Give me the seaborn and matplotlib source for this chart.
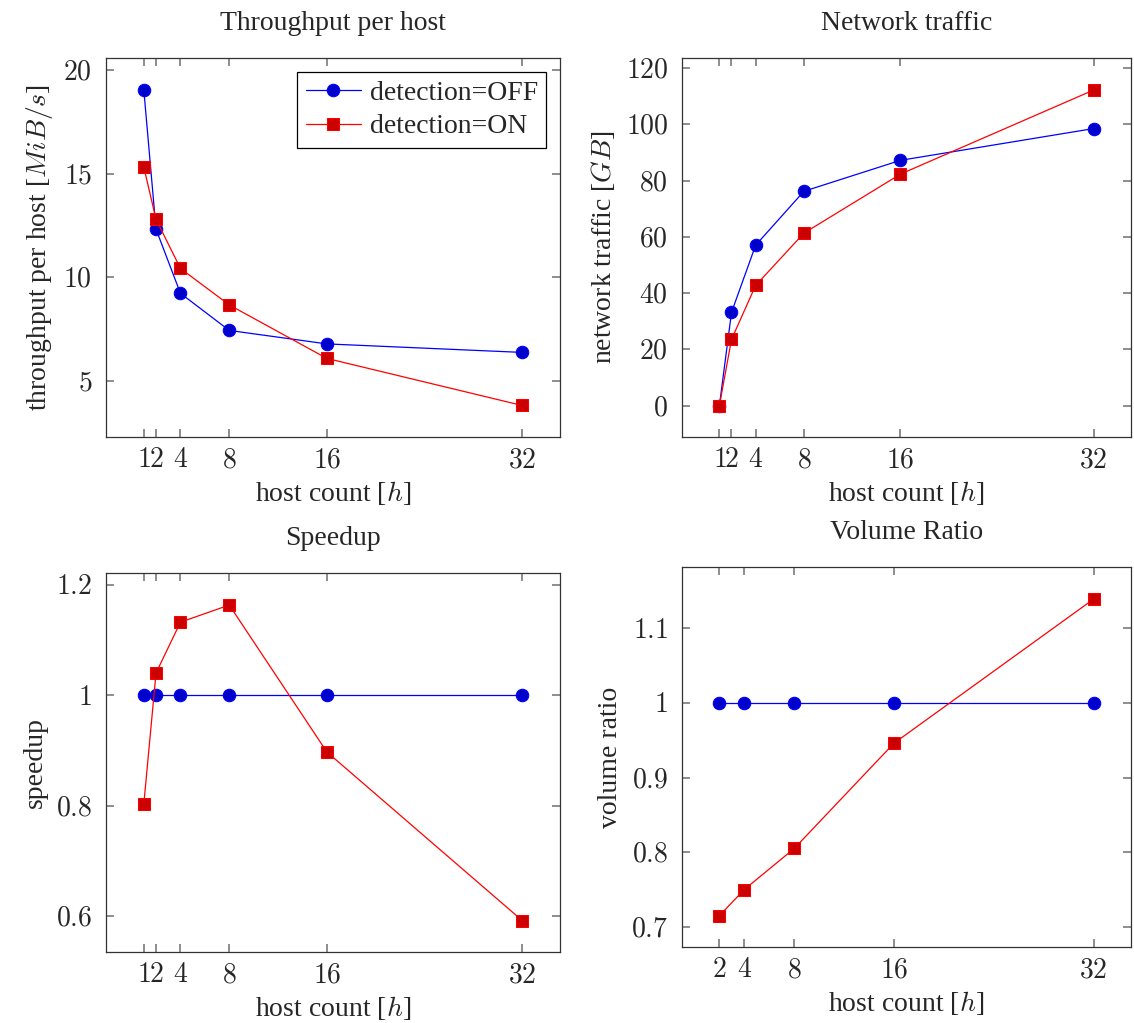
import numpy as np
import pandas as pd
import matplotlib
matplotlib.use("Agg")
import matplotlib.pyplot as plt
import seaborn as sns

# dados
hosts = [1, 2, 4, 8, 16, 32]
hosts_ratio = [2, 4, 8, 16, 32]

thr_off = [19.03, 12.32, 9.23, 7.44, 6.79, 6.38]
thr_on = [15.31, 12.80, 10.43, 8.67, 6.09, 3.82]

net_off = [0.0, 33.1, 57.0, 76.2, 87.2, 98.5]
net_on = [0.0, 23.5, 42.7, 61.3, 82.3, 112.2]

spd_off = [1.0, 1.0, 1.0, 1.0, 1.0, 1.0]
spd_on = [0.803, 1.04, 1.132, 1.163, 0.897, 0.592]

vol_off = [1.0, 1.0, 1.0, 1.0, 1.0]
vol_on = [0.715, 0.75, 0.805, 0.946, 1.139]

series_names = ["detection=OFF", "detection=ON"]

sns.set_theme(style="ticks")
plt.rcParams["font.family"] = ["Liberation Serif", "DejaVu Serif"]
plt.rcParams["mathtext.fontset"] = "cm"

FS = 20

fig = plt.figure(figsize=(11.34, 10.23), dpi=100)
W, H = 1134, 1023


def eixo(l, t, r, b):
    return fig.add_axes([l / W, 1 - b / H, (r - l) / W, (b - t) / H])


def painel(ax, x, off, on, title, ylabel, xticks, yticks, ylim, legend=False):
    df = pd.DataFrame({
        "x": list(x) * 2,
        "y": list(off) + list(on),
        "serie": [series_names[0]] * len(x) + [series_names[1]] * len(x),
    })
    sns.lineplot(data=df[df.serie == series_names[0]], x="x", y="y", ax=ax,
                 color="#0000ff", marker="o", markersize=9,
                 markerfacecolor="#0000cc", markeredgecolor="#0000ff",
                 linewidth=0.9, label=series_names[0], legend=False)
    sns.lineplot(data=df[df.serie == series_names[1]], x="x", y="y", ax=ax,
                 color="#ff0000", marker="s", markersize=8,
                 markerfacecolor="#cc0000", markeredgecolor="#ff0000",
                 linewidth=0.9, label=series_names[1], legend=False)
    span = max(x) - min(x)
    ax.set_xlim(min(x) - 0.1 * span, max(x) + 0.1 * span)
    ax.set_ylim(*ylim)
    ax.set_xticks(xticks)
    ax.set_xticklabels([f"${v}$" for v in xticks])
    ax.set_yticks(yticks)
    ax.set_yticklabels([f"${v:g}$" for v in yticks])
    ax.tick_params(axis="y", pad=10)
    ax.tick_params(axis="x", pad=8)
    ax.tick_params(direction="in", top=True, right=True, length=6,
                   color="#808080", labelsize=FS)
    for s in ax.spines.values():
        s.set_color("#333333")
        s.set_linewidth(0.9)
    ax.set_title(title, fontsize=FS, pad=20)
    ax.set_xlabel("host count [$h$]", fontsize=FS, labelpad=4)
    ax.set_ylabel(ylabel, fontsize=FS, labelpad=6)
    if legend:
        leg = ax.legend(loc="upper right", fontsize=FS, fancybox=False,
                        edgecolor="black", framealpha=1, borderpad=0.3,
                        handlelength=2.0, handletextpad=0.3,
                        labelspacing=0.3, borderaxespad=0.5)
        leg.get_frame().set_linewidth(0.9)


ax1 = eixo(106, 58, 560, 437)
painel(ax1, hosts, thr_off, thr_on, "Throughput per host",
       "throughput per host [$MiB/s$]", hosts, [5, 10, 15, 20],
       (2.3, 20.58), legend=True)

ax2 = eixo(682, 58, 1131, 437)
painel(ax2, hosts, net_off, net_on, "Network traffic",
       "network traffic [$GB$]", hosts, [0, 20, 40, 60, 80, 100, 120],
       (-11.2, 123.6))

ax3 = eixo(106, 573, 560, 952)
painel(ax3, hosts, spd_off, spd_on, "Speedup", "speedup", hosts,
       [0.6, 0.8, 1, 1.2], (0.535, 1.221))

ax4 = eixo(682, 567, 1131, 947)
painel(ax4, hosts_ratio, vol_off, vol_on, "Volume Ratio", "volume ratio",
       hosts_ratio, [0.7, 0.8, 0.9, 1, 1.1], (0.673, 1.182))

fig.savefig("out.png", dpi=100)
plt.close(fig)
